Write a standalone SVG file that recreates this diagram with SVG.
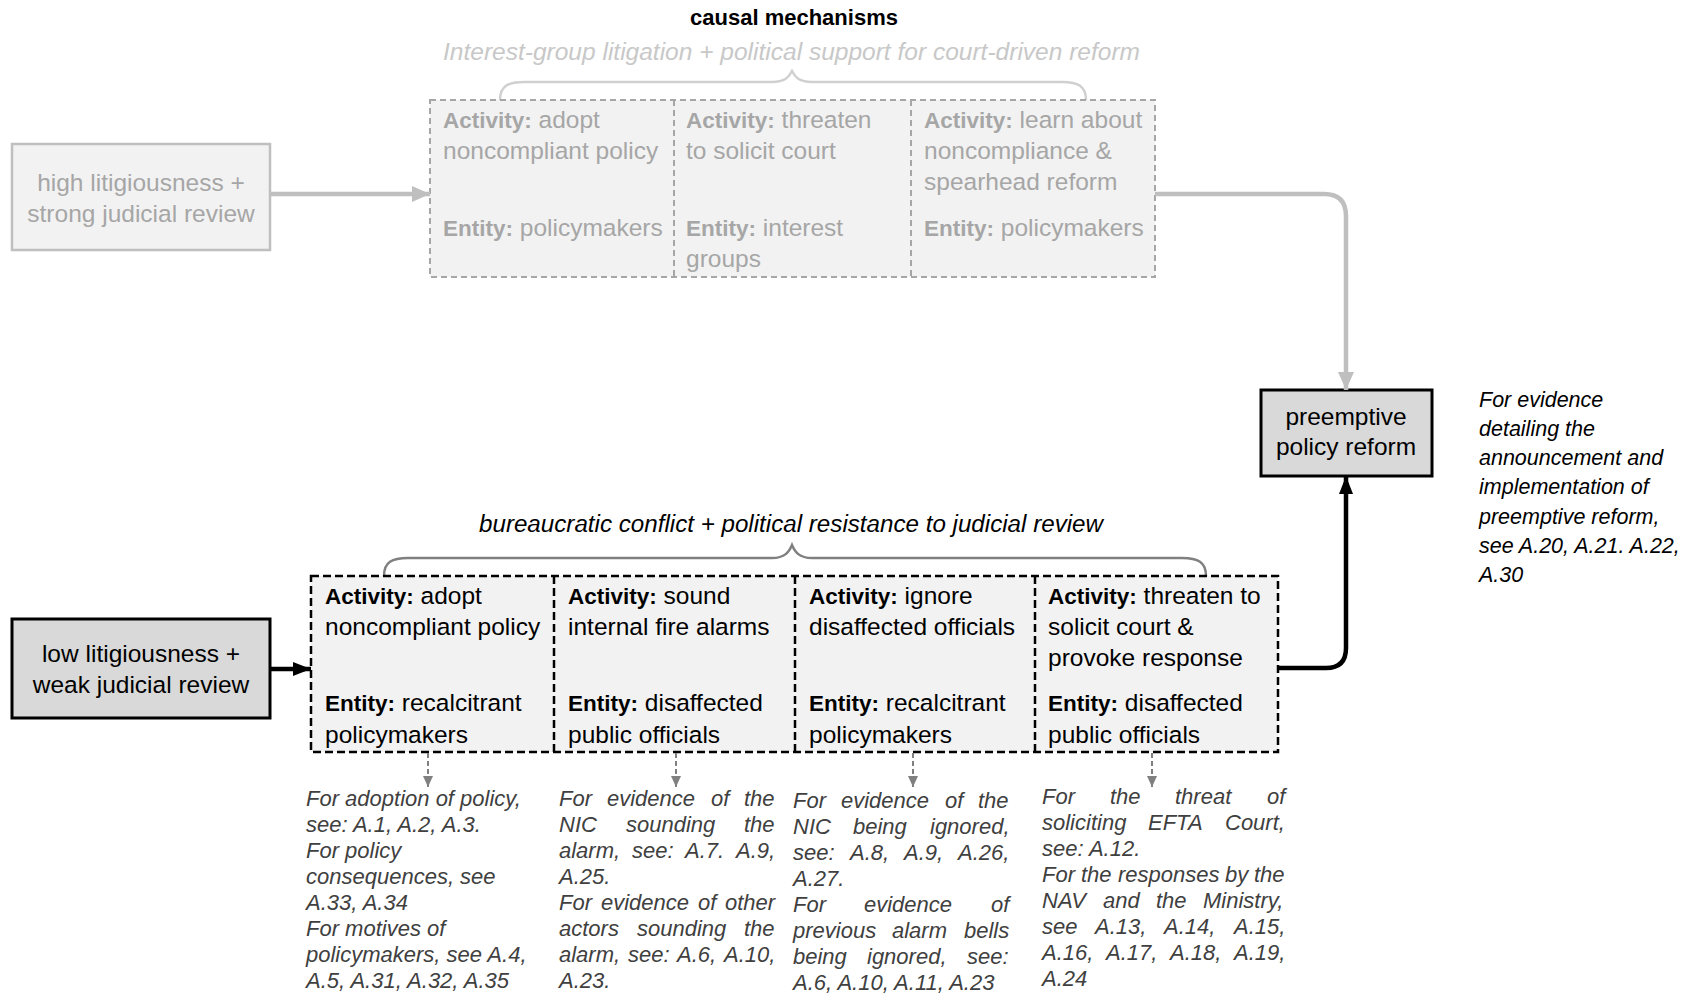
<svg xmlns="http://www.w3.org/2000/svg" width="1683" height="996" viewBox="0 0 1683 996">
<defs>
<style>
text{font-family:"Liberation Sans",Arial,sans-serif;}
.bx{font-size:24.5px;}
.g{fill:#a6a6a6;}
.k{fill:#000;}
.b{font-weight:bold;}
.bx .b{font-size:22.5px;}
.note{font-size:22px;font-style:italic;fill:#404040;}
.rnote{font-size:21.5px;font-style:italic;fill:#000;}
.mid{text-anchor:middle;}
</style>
<marker id="ahGray" markerUnits="userSpaceOnUse" markerWidth="20" markerHeight="20" viewBox="0 0 20 20" refX="18" refY="10" orient="auto"><path d="M0,2 L18,10 L0,18 Z" fill="#bfbfbf"/></marker>
<marker id="ahBlack" markerUnits="userSpaceOnUse" markerWidth="20" markerHeight="20" viewBox="0 0 20 20" refX="18" refY="10" orient="auto"><path d="M0,3 L18,10 L0,17 Z" fill="#000"/></marker>
<marker id="ahSmall" markerUnits="userSpaceOnUse" markerWidth="12" markerHeight="12" viewBox="0 0 12 12" refX="11" refY="6" orient="auto"><path d="M0,1 L11,6 L0,11 Z" fill="#808080"/></marker>
</defs>
<rect width="1683" height="996" fill="#fff"/>

<g id="title">
<text x="794" y="25" class="b mid" font-size="22" fill="#000">causal mechanisms</text>
<text x="443" y="60" font-size="24.5" font-style="italic" fill="#c8c8c8" textLength="697" lengthAdjust="spacingAndGlyphs">Interest-group litigation + political support for court-driven reform</text>
<path d="M500,100 C500,86 508,82 524,82 L772,82 C785,82 789,77 792,71 C795,77 799,82 812,82 L1062,82 C1078,82 1086,86 1086,100" fill="none" stroke="#d0d0d0" stroke-width="2.5"/>
</g>

<g id="node-high">
<rect x="12" y="144" width="258" height="106" fill="#f2f2f2" stroke="#bfbfbf" stroke-width="2.5"/>
<text x="141" y="191" class="bx g mid">high litigiousness +</text>
<text x="141" y="222" class="bx g mid">strong judicial review</text>
</g>

<g id="node-top-mech">
<rect x="430" y="100" width="725" height="177" fill="#f2f2f2" stroke="#a6a6a6" stroke-width="2" stroke-dasharray="6 4"/>
<line x1="674" y1="100" x2="674" y2="277" stroke="#a6a6a6" stroke-width="2" stroke-dasharray="6 4"/>
<line x1="911" y1="100" x2="911" y2="277" stroke="#a6a6a6" stroke-width="2" stroke-dasharray="6 4"/>
<text x="443" y="128" class="bx g"><tspan class="b">Activity:</tspan> adopt</text>
<text x="443" y="159" class="bx g">noncompliant policy</text>
<text x="443" y="236" class="bx g"><tspan class="b">Entity:</tspan> policymakers</text>
<text x="686" y="128" class="bx g"><tspan class="b">Activity:</tspan> threaten</text>
<text x="686" y="159" class="bx g">to solicit court</text>
<text x="686" y="236" class="bx g"><tspan class="b">Entity:</tspan> interest</text>
<text x="686" y="267" class="bx g">groups</text>
<text x="924" y="128" class="bx g"><tspan class="b">Activity:</tspan> learn about</text>
<text x="924" y="159" class="bx g">noncompliance &amp;</text>
<text x="924" y="190" class="bx g">spearhead reform</text>
<text x="924" y="236" class="bx g"><tspan class="b">Entity:</tspan> policymakers</text>
</g>

<g id="node-preempt">
<rect x="1261" y="390" width="171" height="86" fill="#d9d9d9" stroke="#000" stroke-width="3"/>
<text x="1346" y="425" class="bx k mid">preemptive</text>
<text x="1346" y="455" class="bx k mid">policy reform</text>
</g>

<g id="node-preempt-note">
<text x="1479" y="407" class="rnote">For evidence</text>
<text x="1479" y="436" class="rnote">detailing the</text>
<text x="1479" y="465" class="rnote">announcement and</text>
<text x="1479" y="494" class="rnote">implementation of</text>
<text x="1479" y="524" class="rnote">preemptive reform,</text>
<text x="1479" y="553" class="rnote">see A.20, A.21. A.22,</text>
<text x="1479" y="582" class="rnote">A.30</text>
</g>

<g id="bottom-label">
<text x="479" y="532" font-size="24.2" font-style="italic" fill="#000" textLength="624" lengthAdjust="spacingAndGlyphs">bureaucratic conflict + political resistance to judicial review</text>
<path d="M384,576 C384,562 392,558 408,558 L772,558 C785,558 789,552 792,545 C795,552 799,558 812,558 L1182,558 C1198,558 1206,562 1206,576" fill="none" stroke="#808080" stroke-width="2.5"/>
</g>

<g id="node-low">
<rect x="12" y="619" width="258" height="99" fill="#d9d9d9" stroke="#000" stroke-width="3"/>
<text x="141" y="662" class="bx k mid">low litigiousness +</text>
<text x="141" y="693" class="bx k mid">weak judicial review</text>
</g>

<g id="node-bottom-mech">
<rect x="311" y="576" width="967" height="176" fill="#f2f2f2" stroke="#000" stroke-width="2.5" stroke-dasharray="8 4"/>
<line x1="554" y1="576" x2="554" y2="752" stroke="#000" stroke-width="2.5" stroke-dasharray="8 4"/>
<line x1="795" y1="576" x2="795" y2="752" stroke="#000" stroke-width="2.5" stroke-dasharray="8 4"/>
<line x1="1035" y1="576" x2="1035" y2="752" stroke="#000" stroke-width="2.5" stroke-dasharray="8 4"/>
<text x="325" y="604" class="bx k"><tspan class="b">Activity:</tspan> adopt</text>
<text x="325" y="635" class="bx k">noncompliant policy</text>
<text x="325" y="711" class="bx k"><tspan class="b">Entity:</tspan> recalcitrant</text>
<text x="325" y="743" class="bx k">policymakers</text>
<text x="568" y="604" class="bx k"><tspan class="b">Activity:</tspan> sound</text>
<text x="568" y="635" class="bx k">internal fire alarms</text>
<text x="568" y="711" class="bx k"><tspan class="b">Entity:</tspan> disaffected</text>
<text x="568" y="743" class="bx k">public officials</text>
<text x="809" y="604" class="bx k"><tspan class="b">Activity:</tspan> ignore</text>
<text x="809" y="635" class="bx k">disaffected officials</text>
<text x="809" y="711" class="bx k"><tspan class="b">Entity:</tspan> recalcitrant</text>
<text x="809" y="743" class="bx k">policymakers</text>
<text x="1048" y="604" class="bx k"><tspan class="b">Activity:</tspan> threaten to</text>
<text x="1048" y="635" class="bx k">solicit court &amp;</text>
<text x="1048" y="666" class="bx k">provoke response</text>
<text x="1048" y="711" class="bx k"><tspan class="b">Entity:</tspan> disaffected</text>
<text x="1048" y="743" class="bx k">public officials</text>
</g>

<g id="note-1">
<text x="306" y="806" class="note">For adoption of policy,</text>
<text x="306" y="832" class="note">see: A.1, A.2, A.3.</text>
<text x="306" y="858" class="note">For policy</text>
<text x="306" y="884" class="note">consequences, see</text>
<text x="306" y="910" class="note">A.33, A.34</text>
<text x="306" y="936" class="note">For motives of</text>
<text x="306" y="962" class="note">policymakers, see A.4,</text>
<text x="306" y="988" class="note">A.5, A.31, A.32, A.35</text>
</g>

<g id="note-2">
<text y="806" class="note"><tspan x="559">For</tspan><tspan x="607">evidence</tspan><tspan x="711">of</tspan><tspan x="744">the</tspan></text>
<text y="832" class="note"><tspan x="559">NIC</tspan><tspan x="626">sounding</tspan><tspan x="744">the</tspan></text>
<text y="858" class="note"><tspan x="559">alarm,</tspan><tspan x="632">see:</tspan><tspan x="685">A.7.</tspan><tspan x="736">A.9,</tspan></text>
<text x="559" y="884" class="note">A.25.</text>
<text y="910" class="note"><tspan x="559">For</tspan><tspan x="601">evidence</tspan><tspan x="698">of</tspan><tspan x="725">other</tspan></text>
<text y="936" class="note"><tspan x="559">actors</tspan><tspan x="637">sounding</tspan><tspan x="744">the</tspan></text>
<text y="962" class="note"><tspan x="559">alarm,</tspan><tspan x="628">see:</tspan><tspan x="677">A.6,</tspan><tspan x="724">A.10,</tspan></text>
<text x="559" y="988" class="note">A.23.</text>
</g>

<g id="note-3">
<text y="808" class="note"><tspan x="793">For</tspan><tspan x="841">evidence</tspan><tspan x="945">of</tspan><tspan x="978">the</tspan></text>
<text y="834" class="note"><tspan x="793">NIC</tspan><tspan x="853">being</tspan><tspan x="930">ignored,</tspan></text>
<text y="860" class="note"><tspan x="793">see:</tspan><tspan x="850">A.8,</tspan><tspan x="904">A.9,</tspan><tspan x="958">A.26,</tspan></text>
<text x="793" y="886" class="note">A.27.</text>
<text y="912" class="note"><tspan x="793">For</tspan><tspan x="864">evidence</tspan><tspan x="991">of</tspan></text>
<text y="938" class="note"><tspan x="793">previous</tspan><tspan x="892">alarm</tspan><tspan x="964">bells</tspan></text>
<text y="964" class="note"><tspan x="793">being</tspan><tspan x="867">ignored,</tspan><tspan x="967">see:</tspan></text>
<text x="793" y="990" class="note">A.6, A.10, A.11, A.23</text>
</g>

<g id="note-4">
<text y="804" class="note"><tspan x="1042">For</tspan><tspan x="1110">the</tspan><tspan x="1175">threat</tspan><tspan x="1267">of</tspan></text>
<text y="830" class="note"><tspan x="1042">soliciting</tspan><tspan x="1148">EFTA</tspan><tspan x="1225">Court,</tspan></text>
<text x="1042" y="856" class="note">see: A.12.</text>
<text y="882" class="note"><tspan x="1042">For</tspan><tspan x="1081">the</tspan><tspan x="1118">responses</tspan><tspan x="1225">by</tspan><tspan x="1254">the</tspan></text>
<text y="908" class="note"><tspan x="1042">NAV</tspan><tspan x="1103">and</tspan><tspan x="1156">the</tspan><tspan x="1203">Ministry,</tspan></text>
<text y="934" class="note"><tspan x="1042">see</tspan><tspan x="1095">A.13,</tspan><tspan x="1164">A.14,</tspan><tspan x="1234">A.15,</tspan></text>
<text y="960" class="note"><tspan x="1042">A.16,</tspan><tspan x="1106">A.17,</tspan><tspan x="1170">A.18,</tspan><tspan x="1234">A.19,</tspan></text>
<text x="1042" y="986" class="note">A.24</text>
</g>

<g id="connectors" fill="none">
<path d="M271,194 H430" stroke="#bfbfbf" stroke-width="4.5" marker-end="url(#ahGray)"/>
<path d="M1155,194 H1324 Q1346,194 1346,216 V390" stroke="#bfbfbf" stroke-width="4.5" marker-end="url(#ahGray)"/>
<path d="M271,669 H311" stroke="#000" stroke-width="4.5" marker-end="url(#ahBlack)"/>
<path d="M1279,668 H1326 Q1346,668 1346,648 V476" stroke="#000" stroke-width="4.5" marker-end="url(#ahBlack)"/>
<path d="M428,753 V787" stroke="#808080" stroke-width="2" stroke-dasharray="5 3" marker-end="url(#ahSmall)"/>
<path d="M676,753 V787" stroke="#808080" stroke-width="2" stroke-dasharray="5 3" marker-end="url(#ahSmall)"/>
<path d="M913,753 V787" stroke="#808080" stroke-width="2" stroke-dasharray="5 3" marker-end="url(#ahSmall)"/>
<path d="M1152,753 V787" stroke="#808080" stroke-width="2" stroke-dasharray="5 3" marker-end="url(#ahSmall)"/>
</g>
</svg>
